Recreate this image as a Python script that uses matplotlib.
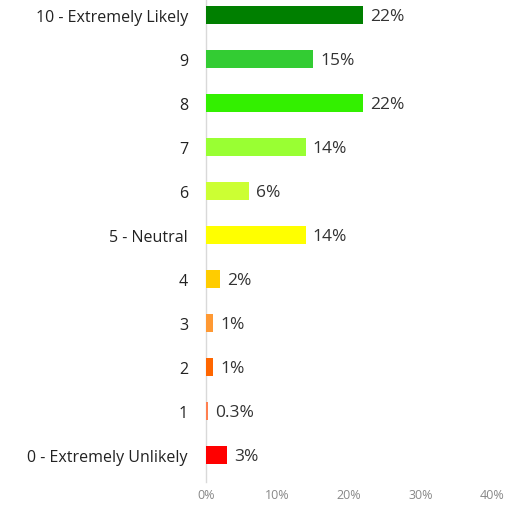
import matplotlib.pyplot as plt
from matplotlib.ticker import FuncFormatter

# categories from top to bottom
labels = ['10 - Extremely Likely', '9', '8', '7', '6', '5 - Neutral',
          '4', '3', '2', '1', '0 - Extremely Unlikely']
values = [22, 15, 22, 14, 6, 14, 2, 1, 1, 0.3, 3]
value_text = ['22%', '15%', '22%', '14%', '6%', '14%', '2%', '1%', '1%', '0.3%', '3%']
colors = ['#007F00', '#33CC33', '#33F000', '#99FF33', '#CCFF33', '#FFFF00',
          '#FFCC00', '#FF9933', '#FF6600', '#FF7F50', '#FF0000']
xticks = [0, 10, 20, 30, 40]

W, H = 519, 506
fig = plt.figure(figsize=(W / 100, H / 100), dpi=100)
ax = fig.add_axes([206 / W, 1 - 483 / H, (492 - 206) / W, 483 / H])

ypos = list(range(len(labels)))
ax.barh(ypos, values, height=0.39, color=colors, linewidth=0, zorder=3)

for y, v, t in zip(ypos, values, value_text):
    ax.text(v + 0.95, y + 0.03, t, ha='left', va='center', fontsize=12.5,
            color='#333333', family='Open Sans')

ax.set_xlim(0, 40)
ax.set_ylim((483 - 16) / 44, -16 / 44)
ax.set_yticks(ypos)
ax.set_yticklabels(labels, fontsize=11.5, color='#222222', family='Open Sans')
ax.set_xticks(xticks)
ax.xaxis.set_major_formatter(FuncFormatter(lambda x, p: f'{x:.0f}%'))
for lab in ax.get_xticklabels():
    lab.set_family('Open Sans')
ax.tick_params(axis='x', length=0, labelsize=9, labelcolor='#888888', pad=4)
ax.tick_params(axis='y', length=0, pad=13)

for s in ['top', 'right', 'bottom']:
    ax.spines[s].set_visible(False)
ax.spines['left'].set_color('#D9D9D9')
ax.spines['left'].set_linewidth(1)

fig.savefig('out.png', dpi=100)
